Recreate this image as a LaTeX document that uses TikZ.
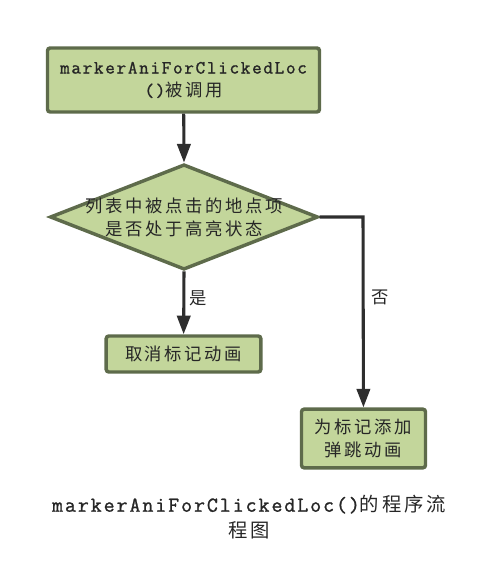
\documentclass[tikz,border=0pt]{standalone}
\usepackage{fontspec}
\setmainfont{Noto Sans CJK SC}[LetterSpace=15]
\newfontfamily\codefont{Latin Modern Mono}[LetterSpace=9,FakeBold=1.2]
\usetikzlibrary{arrows.meta,shapes.geometric}

\definecolor{boxfill}{HTML}{C3D69B}
\definecolor{boxline}{HTML}{5E6B4B}
\definecolor{flowline}{HTML}{2E2E2E}

\tikzset{
  stepbox/.style={draw=boxline, fill=boxfill, line width=2.6pt, rounded corners=2pt,
    inner sep=0pt, align=center, text=black!85, font=\fontsize{13}{17.25}\selectfont},
  decision/.style={diamond, draw=boxline, fill=boxfill, line width=2.6pt, inner sep=0pt,
    minimum width=201pt, minimum height=79pt},
  flow/.style={draw=flowline, line width=2.3pt, -{Triangle[length=14pt,width=10pt]}},
  branch/.style={font=\fontsize{13}{15}\selectfont, text=black!85}
}

\begin{document}
\begin{tikzpicture}[x=0.75pt,y=-0.75pt]
\useasboundingbox (0,0) rectangle (483,580);
% boxes of the flow
    \node[stepbox, minimum width=204pt, minimum height=48pt] (called) at (183.5,80)
      {{\codefont\fontsize{14}{17.25}\selectfont markerAniForClickedLoc}\\{\codefont\fontsize{14}{17.25}\selectfont ()}被调用};
    \node[decision] (check) at (184,217) {};
    \node[align=center, text=black!85, font=\fontsize{13}{17.25}\selectfont] (checktext) at (check)
      {列表中被点击的地点项\\是否处于高亮状态};
    \node[stepbox, minimum width=116pt, minimum height=27pt] (cancel) at (183.5,354) {取消标记动画};
    \node[stepbox, minimum width=93pt, minimum height=44pt] (bounce) at (363.5,438.5)
      {为标记添加\\弹跳动画};
    \coordinate (turn) at (363,217);

    % connectors
    \draw[flow] (called) -- (check.north);
    \draw[flow] (check.south) -- (cancel) node[branch, pos=0.42, right] {是};
    \draw[flow] (check.east) -- (turn) -- (bounce) node[branch, pos=0.42, right, xshift=2pt] {否};

    % caption
    \node[align=center, text=black!85, font=\fontsize{14.5}{19}\selectfont] (title) at (249,517)
      {{\codefont\fontsize{16}{19}\selectfont markerAniForClickedLoc()}的程序流\\程图};
\end{tikzpicture}
\end{document}
